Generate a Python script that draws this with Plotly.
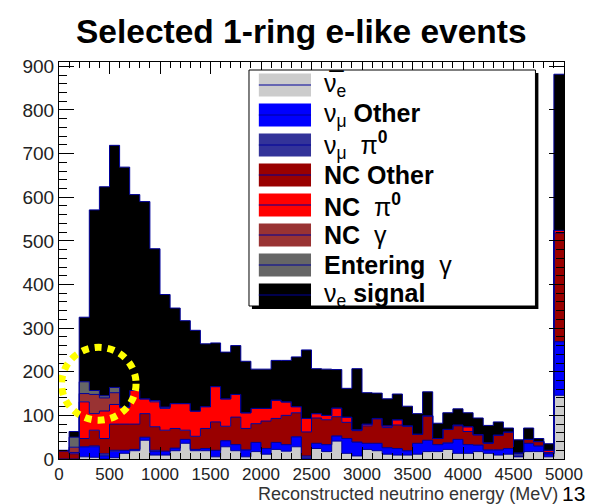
import plotly.graph_objects as go

# Reconstructed-energy binning (MeV)
BIN_WIDTH = 100
N_BINS = 50
edges = [i * BIN_WIDTH for i in range(N_BINS + 1)]

# Event counts per 100 MeV bin for each sample (last bin holds the overflow)
nuebar = [0, 0, 5, 4, 0, 3, 13, 19, 43, 9, 9, 19, 36, 19, 19, 5, 28, 19, 5, 17,
          11, 22, 18, 28, 0, 24, 17, 41, 13, 7, 22, 19, 11, 9, 9, 11, 17, 17, 22, 13,
          13, 17, 13, 9, 11, 5, 17, 17, 5, 146]
numu_other = [0, 0, 23, 24, 7, 15, 7, 3, 7, 8, 9, 6, 9, 3, 5, 15, 14, 14, 16, 21,
              13, 16, 15, 23, 2, 12, 16, 12, 34, 32, 14, 17, 15, 15, 10, 25, 26, 16, 15, 32,
              20, 15, 8, 12, 13, 1, 19, 13, 7, 123]
numu_pi0 = [0, 0, 0, 2, 5, 2, 0, 0, 0, 3, 0, 0, 0, 0, 0, 0, 0, 0, 0, 0,
            0, 0, 0, 0, 5, 0, 0, 0, 0, 0, 0, 0, 0, 0, 0, 0, 0, 0, 0, 0,
            0, 0, 0, 0, 0, 8, 0, 0, 0, 0]
nc_other = [19, 12, 19, 36, 35, 60, 60, 58, 54, 54, 48, 45, 21, 30, 46, 65, 33, 63, 49, 43,
            63, 55, 67, 55, 55, 58, 57, 44, 37, 26, 40, 56, 46, 54, 56, 21, 56, 14, 31, 31,
            30, 23, 15, 34, 38, 0, 9, 10, 3, 249]
nc_pi0 = [0, 3, 84, 38, 63, 45, 39, 77, 34, 57, 50, 57, 61, 58, 50, 81, 63, 52, 36, 35,
          29, 42, 31, 14, 31, 10, 10, 20, 12, 2, 4, 1, 4, 12, 1, 0, 0, 0, 0, 2,
          11, 1, 1, 0, 0, 0, 0, 0, 5, 6]
nc_gamma = [0, 12, 19, 44, 30, 27, 0, 0, 0, 3, 3, 0, 0, 0, 0, 0, 0, 0, 0, 0,
            0, 0, 0, 0, 0, 0, 0, 0, 0, 0, 0, 0, 0, 0, 0, 0, 0, 0, 0, 0,
            0, 0, 0, 0, 0, 0, 0, 0, 0, 0]
entering_gamma = [0, 23, 27, 9, 5, 12, 0, 0, 0, 0, 0, 0, 0, 0, 0, 0, 0, 0, 0, 0,
                  0, 0, 0, 0, 0, 0, 0, 0, 0, 0, 0, 0, 0, 0, 0, 0, 0, 0, 0, 0,
                  0, 0, 0, 0, 0, 0, 0, 0, 0, 0]
nue_signal = [1, 13, 148, 414, 479, 555, 550, 449, 452, 348, 258, 219, 190, 185, 144, 100, 107, 112, 118, 90,
              90, 91, 95, 114, 157, 103, 106, 88, 66, 140, 72, 58, 62, 59, 45, 47, 55, 35, 38, 37,
              32, 38, 40, 30, 9, 30, 26, 7, 15, 358]

# Stack order, bottom to top (also legend order, top to bottom)
samples = [
    ("nuebar", nuebar, "#cccccc", "ν\u0305<sub>e</sub>"),
    ("numu_other", numu_other, "#0000ff", "ν<sub>μ</sub> <b>Other</b>"),
    ("numu_pi0", numu_pi0, "#333399", "ν<sub>μ</sub>  π<sup><b>0</b></sup>"),
    ("nc_other", nc_other, "#990000", "<b>NC Other</b>"),
    ("nc_pi0", nc_pi0, "#ff0000", "<b>NC</b>  π<sup><b>0</b></sup>"),
    ("nc_gamma", nc_gamma, "#993333", "<b>NC</b>  γ"),
    ("entering_gamma", entering_gamma, "#666666", "<b>Entering</b>  γ"),
    ("nue_signal", nue_signal, "#000000", "ν<sub>e</sub> <b>signal</b>"),
]

OUTLINE = "#000099"

fig = go.Figure()
for name, vals, color, _ in samples:
    fig.add_trace(go.Scatter(
        x=edges,
        y=list(vals) + [vals[-1]],
        mode="lines",
        line=dict(color=OUTLINE, width=1, shape="hv"),
        fillcolor=color,
        stackgroup="stack",
        name=name,
        showlegend=False,
        hoverinfo="skip",
    ))

# Figure geometry in pixels
W, H = 595, 504
L, R, T, B = 59, 23, 62, 45
PW, PH = W - L - R, H - T - B


def px(x):
    return (x - L) / PW


def py(y):
    return (H - B - y) / PH


shapes = []
annotations = []

# Hand-built legend box with drop shadow
LEG_X0, LEG_X1, LEG_Y0, LEG_Y1 = 252, 543, 70, 306
shapes.append(dict(type="rect", xref="paper", yref="paper",
                   x0=px(LEG_X0 + 3), x1=px(LEG_X1 + 3), y0=py(LEG_Y1 + 3), y1=py(LEG_Y0 + 3),
                   fillcolor="black", line=dict(width=0), layer="above"))
shapes.append(dict(type="rect", xref="paper", yref="paper",
                   x0=px(LEG_X0), x1=px(LEG_X1), y0=py(LEG_Y1), y1=py(LEG_Y0),
                   fillcolor="white", line=dict(color="black", width=1), layer="above"))

ROW0, ROW_STEP = 85, 30
SW_X0, SW_X1, SW_H = 262, 315, 23
for i, (name, vals, color, label) in enumerate(samples):
    cy = ROW0 + i * ROW_STEP
    shapes.append(dict(type="rect", xref="paper", yref="paper",
                       x0=px(SW_X0), x1=px(SW_X1), y0=py(cy + SW_H / 2), y1=py(cy - SW_H / 2),
                       fillcolor=color, line=dict(width=0), layer="above"))
    shapes.append(dict(type="line", xref="paper", yref="paper",
                       x0=px(SW_X0), x1=px(SW_X1), y0=py(cy), y1=py(cy),
                       line=dict(color=OUTLINE, width=1), layer="above"))
    annotations.append(dict(xref="paper", yref="paper", x=px(326), y=py(cy),
                            xanchor="left", yanchor="middle", text=label, showarrow=False,
                            font=dict(family="Liberation Sans", size=25, color="black")))

# Highlighted low-energy region
shapes.append(dict(type="circle", xref="x", yref="y", x0=26, x1=763, y0=89, y1=256,
                   line=dict(color="#ffff00", width=7, dash="7px,6px"), layer="above"))

annotations.append(dict(xref="paper", yref="paper", x=px(305), y=py(31),
                        xanchor="center", yanchor="middle", showarrow=False,
                        text="<b>Selected 1-ring e-like events</b>",
                        font=dict(family="Liberation Sans", size=33.5, color="black")))
annotations.append(dict(xref="paper", yref="paper", x=px(568), y=py(494),
                        xanchor="right", yanchor="middle", showarrow=False,
                        text="Reconstructed neutrino energy (MeV)",
                        font=dict(family="Liberation Sans", size=18, color="#333333")))
annotations.append(dict(xref="paper", yref="paper", x=px(568), y=py(493),
                        xanchor="left", yanchor="middle", showarrow=False,
                        text="13",
                        font=dict(family="Liberation Sans", size=21, color="black")))

TICKFONT = dict(family="Liberation Sans", size=17, color="#222222")

fig.update_layout(
    width=W, height=H,
    margin=dict(l=L, r=R, t=T, b=B),
    paper_bgcolor="white", plot_bgcolor="white",
    showlegend=False,
    shapes=shapes,
    annotations=annotations,
    xaxis=dict(range=[0, 5000], tickmode="array", tickvals=list(range(0, 5001, 500)),
               ticks="inside", ticklen=12, tickwidth=1, tickcolor="black",
               minor=dict(ticks="inside", ticklen=6, dtick=100, tickcolor="black", showgrid=False),
               showline=True, linecolor="black", linewidth=1, mirror="allticks",
               showgrid=False, zeroline=False, tickfont=TICKFONT),
    yaxis=dict(range=[0, 910], tickmode="array", tickvals=list(range(0, 901, 100)),
               ticks="inside", ticklen=15, tickwidth=1, tickcolor="black",
               minor=dict(ticks="inside", ticklen=8, dtick=20, tickcolor="black", showgrid=False),
               showline=True, linecolor="black", linewidth=1, mirror="allticks",
               showgrid=False, zeroline=False, tickfont=dict(TICKFONT, size=19)),
)

fig.write_html("out.html")
